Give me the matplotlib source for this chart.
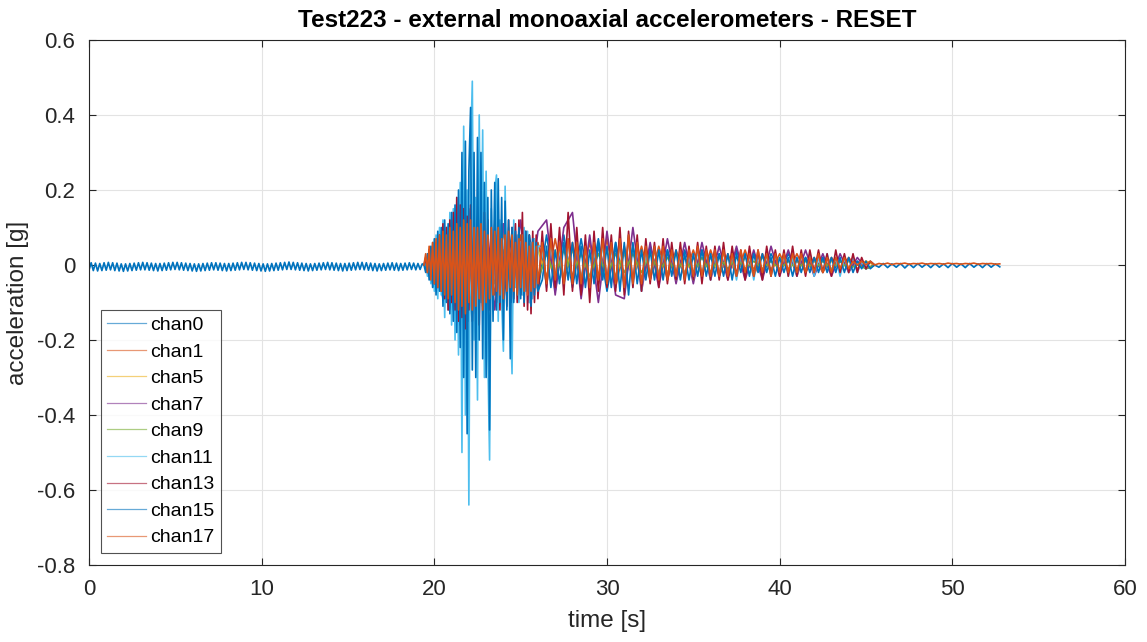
import matplotlib
matplotlib.use("Agg")
import numpy as np
import matplotlib.pyplot as plt

# --- time bases (s) ---
t_pre = np.linspace(0.0, 19.3, 156)      # quiet before the shaking
t_a = np.linspace(19.4, 26.0, 67)        # strong motion, fine
t_b = np.linspace(26.25, 45.5, 78)       # decaying part
t_post = np.linspace(45.75, 52.75, 29)   # quiet after
t_c = np.linspace(19.5, 45.5, 53)        # coarse, channels mostly hidden

# --- acceleration values [g] ---
chan15_pre = [-0.014, 0.006, -0.015, 0.005, -0.016, 0.004, -0.015, 0.006, -0.014, 0.007,
              -0.013, 0.006, -0.015, 0.005, -0.016, 0.003, -0.017, 0.003, -0.016, 0.004,
              -0.015, 0.005, -0.014, 0.006, -0.013, 0.007, -0.013, 0.006, -0.014, 0.005,
              -0.015, 0.004, -0.016, 0.004, -0.015, 0.005, -0.014, 0.006, -0.013, 0.007,
              -0.012, 0.007, -0.013, 0.006, -0.014, 0.005, -0.015, 0.004, -0.016, 0.003,
              -0.017, 0.003, -0.016, 0.004, -0.015, 0.005, -0.014, 0.006, -0.013, 0.006,
              -0.014, 0.005, -0.015, 0.004, -0.016, 0.004, -0.015, 0.005, -0.014, 0.006,
              -0.013, 0.007, -0.012, 0.007, -0.013, 0.006, -0.014, 0.005, -0.015, 0.004,
              -0.016, 0.003, -0.017, 0.003, -0.016, 0.004, -0.015, 0.005, -0.014, 0.006,
              -0.013, 0.007, -0.012, 0.008, -0.012, 0.007, -0.013, 0.006, -0.014, 0.005,
              -0.015, 0.004, -0.016, 0.003, -0.015, 0.004, -0.014, 0.005, -0.013, 0.006,
              -0.012, 0.007, -0.013, 0.006, -0.014, 0.005, -0.015, 0.004, -0.016, 0.004,
              -0.015, 0.005, -0.014, 0.006, -0.013, 0.007, -0.012, 0.007, -0.013, 0.006,
              -0.014, 0.005, -0.015, 0.004, -0.016, 0.003, -0.015, 0.004, -0.014, 0.005,
              -0.013, 0.006, -0.014, 0.005, -0.015, 0.004, -0.014, 0.005, -0.013, 0.006,
              -0.012, 0.005, -0.013, 0.004, -0.012, 0.003]

chan15_a = [0.00, -0.02, 0.03, -0.04, 0.05, -0.06, 0.07, -0.08, 0.09, -0.07,
            0.10, -0.11, 0.12, -0.10, 0.11, -0.13, 0.14, -0.15, 0.16, -0.18,
            0.20, -0.22, 0.30, -0.30, 0.33, -0.45, 0.25, 0.42, -0.28, 0.30,
            -0.30, 0.34, -0.20, 0.30, -0.25, 0.22, -0.30, 0.18, -0.44, 0.20,
            -0.15, 0.22, -0.12, 0.23, -0.10, 0.18, -0.20, 0.17, -0.12, 0.12,
            -0.25, 0.10, -0.10, 0.09, -0.08, 0.10, -0.09, 0.08, -0.10, 0.09,
            -0.07, 0.08, -0.11, 0.07, -0.08, 0.06, -0.07]
chan15_b = [-0.04, 0.05, -0.06, 0.04, -0.05, 0.06, -0.04, 0.06,
            -0.05, 0.05, -0.06, 0.04, -0.05, 0.06, -0.04, 0.05,
            -0.06, 0.06, -0.07, 0.06, -0.08, 0.06, -0.05, 0.04,
            -0.04, 0.04, -0.04, 0.04, -0.04, 0.04, -0.03, 0.04,
            -0.04, 0.03, -0.04, 0.03, -0.03, 0.04, -0.03, 0.03,
            -0.03, 0.03, -0.03, 0.03, -0.04, 0.03, -0.02, 0.03,
            -0.03, 0.03, -0.02, 0.03, -0.02, 0.02, -0.03, 0.02,
            -0.02, 0.02, -0.03, 0.02, -0.02, 0.02, -0.02, 0.02,
            -0.02, 0.02, -0.02, 0.02, -0.02, 0.02, -0.02, 0.02,
            -0.02, 0.01, -0.01, 0.01, -0.01, 0.00]
chan15_post = [-0.006, 0.004, -0.007, 0.003, -0.006, 0.004, -0.008, 0.003, -0.007, 0.004,
               -0.006, 0.003, -0.007, 0.004, -0.006, 0.003, -0.007, 0.004, -0.006, 0.003,
               -0.007, 0.004, -0.006, 0.003, -0.007, 0.004, -0.006, 0.003, -0.005]

chan11_a = [0.00, 0.01, -0.03, 0.04, -0.05, 0.06, -0.07, 0.08, -0.09, 0.10,
            -0.08, 0.12, -0.14, 0.10, -0.12, 0.14, -0.16, 0.15, -0.20, 0.18,
            -0.24, 0.22, -0.50, 0.37, -0.40, 0.20, -0.64, 0.30, 0.49, -0.20,
            0.18, -0.36, 0.40, -0.10, 0.36, -0.30, 0.25, -0.25, -0.52, 0.15,
            -0.12, 0.20, 0.24, -0.15, 0.12, -0.10, -0.23, 0.21, -0.08, 0.10,
            -0.12, -0.29, 0.12, -0.06, 0.08, -0.10, 0.06, -0.08, 0.10, -0.07,
            0.09, -0.10, 0.06, -0.09, 0.07, -0.06, 0.05]
chan11_b = [0.05, -0.06, 0.06, -0.04, 0.05, -0.06, 0.07, -0.05,
            0.06, -0.05, 0.05, -0.06, 0.05, -0.05, 0.06, -0.05,
            0.05, -0.06, 0.07, -0.07, 0.08, -0.06, 0.06, -0.07,
            0.04, -0.04, 0.05, -0.04, 0.04, -0.04, 0.04, -0.04,
            0.04, -0.04, 0.03, -0.04, 0.04, -0.03, 0.04, -0.04,
            0.03, -0.03, 0.04, -0.03, 0.03, -0.04, 0.03, -0.03,
            0.03, -0.04, 0.03, -0.03, 0.03, -0.03, 0.03, -0.02,
            0.03, -0.03, 0.02, -0.03, 0.03, -0.02, 0.03, -0.03,
            0.02, -0.02, 0.03, -0.02, 0.02, -0.03, 0.02, -0.02,
            0.02, -0.02, 0.01, -0.01, 0.01, 0.00]

chan13_a = [0.00, 0.02, -0.02, 0.04, -0.03, 0.05, -0.05, 0.06, -0.06, 0.08,
            -0.07, 0.11, -0.09, 0.10, -0.12, 0.12, -0.10, 0.14, -0.12, 0.18,
            -0.15, 0.16, -0.14, 0.15, -0.17, 0.13, -0.12, 0.16, -0.15, 0.14,
            -0.13, 0.12, -0.16, 0.15, -0.11, 0.14, -0.13, 0.12, -0.12, 0.10,
            -0.11, 0.12, -0.10, 0.09, -0.12, 0.11, -0.09, 0.10, -0.11, 0.12,
            -0.08, 0.10, -0.09, 0.11, -0.10, 0.12, -0.08, 0.14, -0.11, 0.09,
            -0.12, 0.08, -0.13, 0.09, -0.10, 0.08, -0.09]
chan13_b = [0.09, -0.07, 0.11, -0.06, 0.10, -0.08, 0.14, -0.07,
            0.10, -0.08, 0.08, -0.10, 0.09, -0.07, 0.10, -0.06,
            0.08, -0.07, 0.10, -0.08, 0.09, -0.06, 0.08, -0.07,
            0.07, -0.05, 0.06, -0.06, 0.07, -0.05, 0.06, -0.04,
            0.06, -0.05, 0.05, -0.04, 0.06, -0.05, 0.05, -0.04,
            0.05, -0.04, 0.06, -0.04, 0.05, -0.03, 0.04, -0.04,
            0.05, -0.03, 0.04, -0.04, 0.05, -0.03, 0.04, -0.03,
            0.04, -0.03, 0.05, -0.03, 0.04, -0.03, 0.04, -0.02,
            0.04, -0.02, 0.03, -0.03, 0.04, -0.02, 0.03, -0.02,
            0.03, -0.02, 0.02, -0.01, 0.01, 0.00]

chan17_a = [0.00, 0.03, -0.02, 0.05, -0.04, 0.06, -0.05, 0.07, -0.06, 0.08,
            -0.07, 0.09, -0.08, 0.08, -0.09, 0.10, -0.08, 0.09, -0.10, 0.11,
            -0.12, 0.10, -0.11, 0.12, -0.13, 0.11, -0.10, 0.12, -0.12, 0.10,
            -0.11, 0.10, -0.09, 0.11, -0.12, 0.09, -0.10, 0.08, -0.09, 0.10,
            -0.08, 0.09, -0.07, 0.10, -0.08, 0.07, -0.09, 0.08, -0.07, 0.09,
            -0.06, 0.08, -0.07, 0.06, -0.08, 0.07, -0.06, 0.08, -0.07, 0.06,
            -0.08, 0.05, -0.07, 0.06, -0.06, 0.05, -0.05]
chan17_b = [0.06, -0.05, 0.07, -0.04, 0.06, -0.05, 0.07, -0.05,
            0.06, -0.05, 0.05, -0.06, 0.06, -0.04, 0.07, -0.05,
            0.06, -0.05, 0.07, -0.06, 0.08, -0.05, 0.06, -0.05,
            0.05, -0.04, 0.05, -0.04, 0.05, -0.04, 0.04, -0.03,
            0.04, -0.04, 0.04, -0.03, 0.05, -0.03, 0.04, -0.03,
            0.04, -0.03, 0.04, -0.03, 0.03, -0.03, 0.04, -0.02,
            0.03, -0.03, 0.04, -0.02, 0.03, -0.03, 0.03, -0.02,
            0.03, -0.02, 0.03, -0.02, 0.03, -0.02, 0.02, -0.02,
            0.03, -0.02, 0.02, -0.02, 0.02, -0.01, 0.02, -0.01,
            0.01, 0.00, 0.01, 0.00, 0.01, 0.00]
chan17_post = [0.004, 0.002, 0.005, 0.001, 0.004, 0.003, 0.005, 0.002, 0.004, 0.003,
               0.005, 0.002, 0.004, 0.003, 0.004, 0.002, 0.005, 0.003, 0.004, 0.002,
               0.004, 0.003, 0.005, 0.002, 0.004, 0.003, 0.004, 0.002, 0.003]

chan0_c = [0.00, -0.06, 0.09, -0.12, 0.14, -0.15, 0.13, -0.12, 0.11, -0.10,
           0.09, -0.08, 0.08, -0.07, 0.08, -0.07, 0.08, -0.06, 0.07, -0.06,
           0.07, -0.07, 0.06, -0.05, 0.05, -0.04, 0.05, -0.04, 0.04, -0.04,
           0.04, -0.03, 0.04, -0.03, 0.03, -0.03, 0.04, -0.03, 0.03, -0.03,
           0.03, -0.02, 0.03, -0.02, 0.02, -0.02, 0.02, -0.02, 0.01, -0.01,
           0.01, -0.01, 0.00]
chan1_c = [0.00, 0.05, -0.07, 0.09, -0.11, 0.10, -0.10, 0.09, -0.08, 0.09,
           -0.07, 0.08, -0.07, 0.06, -0.05, 0.07, -0.05, 0.06, -0.05, 0.06,
           -0.05, 0.07, -0.06, 0.05, -0.04, 0.05, -0.04, 0.05, -0.04, 0.04,
           -0.03, 0.04, -0.03, 0.04, -0.03, 0.03, -0.03, 0.04, -0.03, 0.03,
           -0.02, 0.03, -0.02, 0.03, -0.02, 0.02, -0.02, 0.02, -0.01, 0.02,
           -0.01, 0.01, 0.00]
chan5_c = [0.00, 0.03, -0.04, 0.05, -0.06, 0.06, -0.05, 0.05, -0.05, 0.04,
           -0.04, 0.05, -0.04, 0.04, -0.03, 0.04, -0.03, 0.04, -0.03, 0.03,
           -0.03, 0.04, -0.03, 0.03, -0.03, 0.03, -0.02, 0.03, -0.02, 0.03,
           -0.02, 0.02, -0.02, 0.02, -0.02, 0.02, -0.02, 0.02, -0.01, 0.02,
           -0.01, 0.02, -0.01, 0.01, -0.01, 0.01, -0.01, 0.01, -0.01, 0.01,
           0.00, 0.01, 0.00]
chan7_c = [0.00, 0.06, -0.09, 0.12, -0.16, 0.15, -0.14, 0.13, -0.12, 0.11,
           -0.10, 0.12, -0.10, 0.09, 0.12, -0.08, 0.10, 0.14, -0.09, 0.08,
           -0.10, 0.09, -0.08, -0.09, 0.10, -0.07, 0.06, -0.06, 0.07, -0.05,
           0.06, -0.05, 0.06, -0.04, 0.05, -0.04, 0.05, -0.04, 0.04, -0.04,
           0.05, -0.03, 0.04, -0.03, 0.04, -0.03, 0.03, -0.03, 0.03, -0.02,
           0.02, -0.01, 0.00]
chan9_c = [0.00, -0.03, 0.04, -0.05, 0.06, -0.05, 0.05, -0.04, 0.05, -0.04,
           0.04, -0.04, 0.03, -0.04, 0.03, -0.03, 0.04, -0.03, 0.03, -0.03,
           0.03, -0.03, 0.03, -0.02, 0.03, -0.02, 0.03, -0.02, 0.02, -0.02,
           0.02, -0.02, 0.02, -0.02, 0.02, -0.01, 0.02, -0.01, 0.01, -0.01,
           0.01, -0.01, 0.01, -0.01, 0.01, -0.01, 0.01, -0.01, 0.01, -0.01,
           0.00, -0.01, 0.00]

# MATLAB default colour order
c_blue, c_orange, c_yellow, c_purple = "#0072BD", "#D95319", "#EDB120", "#7E2F8E"
c_green, c_cyan, c_red = "#77AC30", "#4DBEEE", "#A2142F"

plt.rcParams['font.family'] = ['Liberation Sans', 'DejaVu Sans']

fig = plt.figure(figsize=(11.47, 6.42), dpi=100)
ax = fig.add_axes([0.0776, 0.12, 0.9032, 0.8177])

lw = 1.2
ax.plot(t_c, chan0_c, color=c_blue, lw=lw, label="chan0")
ax.plot(t_c, chan1_c, color=c_orange, lw=lw, label="chan1")
ax.plot(t_c, chan5_c, color=c_yellow, lw=lw, label="chan5")
ax.plot(t_c, chan7_c, color=c_purple, lw=lw, label="chan7")
ax.plot(t_c, chan9_c, color=c_green, lw=lw, label="chan9")
ax.plot(np.concatenate([t_a, t_b]), chan11_a + chan11_b, color=c_cyan, lw=lw, label="chan11")
ax.plot(np.concatenate([t_a, t_b]), chan13_a + chan13_b, color=c_red, lw=lw, label="chan13")
ax.plot(np.concatenate([t_pre, t_a, t_b, t_post]), chan15_pre + chan15_a + chan15_b + chan15_post,
        color=c_blue, lw=lw, label="chan15")
ax.plot(np.concatenate([t_a, t_b, t_post]), chan17_a + chan17_b + chan17_post,
        color=c_orange, lw=lw, label="chan17")

ax.set_xlim(0, 60)
ax.set_ylim(-0.8, 0.6)
ax.set_xticks(np.arange(0, 61, 10))
ax.set_yticks(np.arange(-0.8, 0.61, 0.2))
ax.set_yticklabels(["-0.8", "-0.6", "-0.4", "-0.2", "0", "0.2", "0.4", "0.6"])

ax.grid(True, color="#e3e3e3", lw=0.8)
ax.set_axisbelow(True)
for s in ax.spines.values():
    s.set_color("#262626")
    s.set_linewidth(0.8)
ax.tick_params(colors="#262626", labelsize=16, direction="in", length=5, top=True, right=True,
               pad=10)

ax.set_title("Test223 - external monoaxial accelerometers - RESET", fontsize=17.5,
             fontweight="bold", color="black", pad=9)
ax.set_xlabel("time [s]", fontsize=17.5, color="#262626", labelpad=7)
ax.set_ylabel("acceleration [g]", fontsize=17.5, color="#262626", labelpad=6)

leg = ax.legend(loc="lower left", fontsize=14, frameon=True,
                fancybox=False, edgecolor="#262626", handlelength=2.0, handletextpad=0.2,
                labelspacing=0.46, borderpad=0.35, borderaxespad=0.6)
leg.get_frame().set_linewidth(0.8)
for h in leg.get_lines():
    h.set_alpha(0.6)
    h.set_linewidth(0.9)

fig.savefig("out.png", dpi=100)
